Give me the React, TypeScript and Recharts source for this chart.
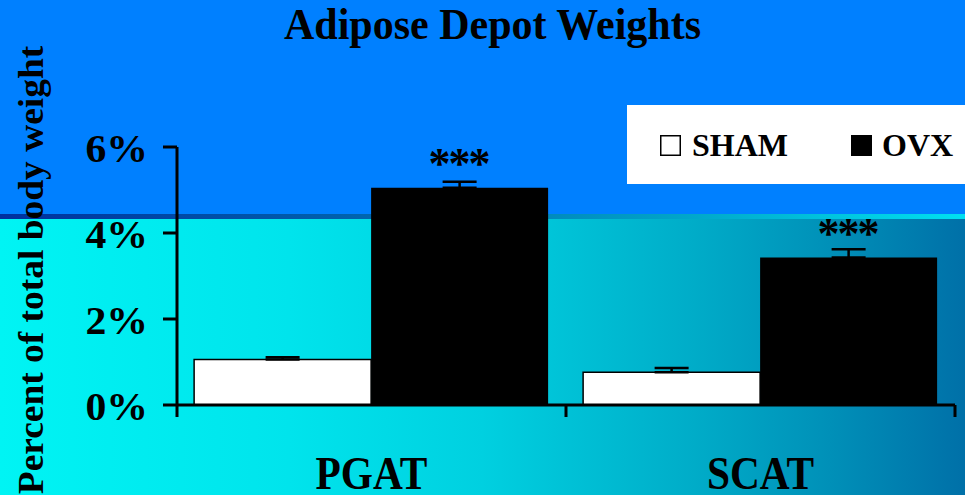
import React from 'react';
import { BarChart, Bar, XAxis, YAxis, ErrorBar, LabelList, Legend } from 'recharts';

// Adipose depot weights as percent of total body weight
const categories = ['PGAT', 'SCAT'];
const shamValues = [1.06, 0.76];
const shamErrors = [0.05, 0.1];
const ovxValues = [5.05, 3.43];
const ovxErrors = [0.14, 0.19];
const ovxSignificance = ['***', '***'];
const yTicks = [0, 2, 4, 6];
const seriesNames = ['SHAM', 'OVX'];

const data = categories.map((name, i) => ({
  name,
  sham: shamValues[i],
  shamErr: [0, shamErrors[i]],
  ovx: ovxValues[i],
  ovxErr: [0, ovxErrors[i]],
  sig: ovxSignificance[i],
}));

const W = 965;
const H = 495;
const MARGIN = { top: 147, right: 10, bottom: 0, left: 0 };
const Y_AXIS_W = 177;
const X_AXIS_H = 90;
const FONT = '"Liberation Serif", "Times New Roman", Times, serif';

type TextProps = {
  x: number;
  y: number;
  size: number;
  sx?: number;
  rotate?: number;
  anchor?: 'start' | 'middle' | 'end';
  children: React.ReactNode;
};

// Bold serif text with an optional horizontal stretch
const StretchText = ({ x, y, size, sx = 1, rotate = 0, anchor = 'middle', children }: TextProps) => (
  <text
    transform={`translate(${x},${y})${rotate ? ` rotate(${rotate})` : ''} scale(${sx},1)`}
    textAnchor={anchor}
    fontFamily={FONT}
    fontWeight="bold"
    fontSize={size}
    fill="#000"
  >
    {children}
  </text>
);

const YTick = (props: any) => {
  const { x, y, payload } = props;
  return (
    <StretchText x={x - 15} y={y + 15} size={39} sx={1.07} anchor="end">
      {`${payload.value}%`}
    </StretchText>
  );
};

const bandWidth = (W - MARGIN.right - Y_AXIS_W) / categories.length;

const XTick = (props: any) => {
  const { x, y, payload, index } = props;
  const left = x - bandWidth / 2;
  const right = x + bandWidth / 2;
  return (
    <g>
      <line x1={left} x2={left} y1={y} y2={y + 12} stroke="#000" strokeWidth={3} />
      {index === categories.length - 1 && (
        <line x1={right} x2={right} y1={y} y2={y + 12} stroke="#000" strokeWidth={3} />
      )}
      <StretchText x={x} y={y + 84} size={47} sx={0.88}>
        {payload.value}
      </StretchText>
    </g>
  );
};

const YLabel = () => (
  <StretchText x={43} y={270} size={35} sx={1.07} rotate={-90}>
    Percent of total body weight
  </StretchText>
);

const Stars = (props: any) => {
  const { x, y, width, value } = props;
  if (!value) return null;
  return (
    <text
      x={x + width / 2}
      y={y - 10}
      dx={-1}
      textAnchor="middle"
      fontFamily={FONT}
      fontWeight="bold"
      fontSize={44}
      letterSpacing={-2}
      fill="#000"
    >
      {value}
    </text>
  );
};

const LegendBox = () => (
  <svg width={338} height={79} style={{ display: 'block', background: '#ffffff' }}>
    <rect x={33.75} y={30.75} width={19.5} height={19.5} fill="#fff" stroke="#000" strokeWidth={1.5} />
    <StretchText x={65} y={51} size={32} anchor="start">
      {seriesNames[0]}
    </StretchText>
    <rect x={224} y={30} width={21} height={21} fill="#000" />
    <StretchText x={255} y={51} size={32} anchor="start">
      {seriesNames[1]}
    </StretchText>
  </svg>
);

export default function App() {
  return (
    <div style={{ position: 'absolute', left: 0, top: 0, width: W, height: H, overflow: 'hidden' }}>
      {/* backdrop: blue band, thin divider, cyan-to-teal panel */}
      <div style={{ position: 'absolute', left: 0, top: 0, width: W, height: 214, background: '#0080ff' }} />
      <div
        style={{
          position: 'absolute',
          left: 0,
          top: 214,
          width: W,
          height: 5,
          background: 'linear-gradient(to right, #00309e 0%, #0060ac 35%, #00a4c8 70%, #00e0f0 100%)',
        }}
      />
      <div
        style={{
          position: 'absolute',
          left: 0,
          top: 219,
          width: W,
          height: H - 219,
          background:
            'linear-gradient(to right, #00f4f4 0%, #00e4ec 30%, #00d0e0 50%, #00acc8 72%, #0090b8 86%, #0070a8 100%)',
        }}
      />
      <svg width={W} height={60} style={{ position: 'absolute', left: 0, top: 0 }}>
        <StretchText x={492.5} y={39} size={44} sx={0.955}>
          Adipose Depot Weights
        </StretchText>
      </svg>
      <div style={{ position: 'absolute', left: 0, top: 0 }}>
        <BarChart
          width={W}
          height={H}
          data={data}
          margin={MARGIN}
          barCategoryGap="4.4%"
          barGap={0}
        >
          <XAxis
            dataKey="name"
            height={X_AXIS_H}
            axisLine={{ stroke: '#000', strokeWidth: 3 }}
            tickLine={false}
            tickSize={0}
            tickMargin={0}
            tick={<XTick />}
            interval={0}
          />
          <YAxis
            width={Y_AXIS_W}
            domain={[0, 6]}
            ticks={yTicks}
            allowDataOverflow
            axisLine={{ stroke: '#000', strokeWidth: 3 }}
            tickLine={{ stroke: '#000', strokeWidth: 3 }}
            tickSize={14}
            tickMargin={0}
            tick={<YTick />}
            label={<YLabel />}
          />
          <Legend
            layout="horizontal"
            verticalAlign="middle"
            align="center"
            content={<LegendBox />}
            wrapperStyle={{ position: 'absolute', left: 627, top: 105, width: 338, height: 79 }}
          />
          <Bar
            dataKey="sham"
            name={seriesNames[0]}
            fill="#ffffff"
            stroke="#000"
            strokeWidth={1.5}
            isAnimationActive={false}
          >
            <ErrorBar dataKey="shamErr" direction="y" width={17} stroke="#000" strokeWidth={2.5} />
          </Bar>
          <Bar dataKey="ovx" name={seriesNames[1]} fill="#000000" isAnimationActive={false}>
            <ErrorBar dataKey="ovxErr" direction="y" width={17} stroke="#000" strokeWidth={2.5} />
            <LabelList dataKey="sig" content={<Stars />} />
          </Bar>
        </BarChart>
      </div>
    </div>
  );
}
